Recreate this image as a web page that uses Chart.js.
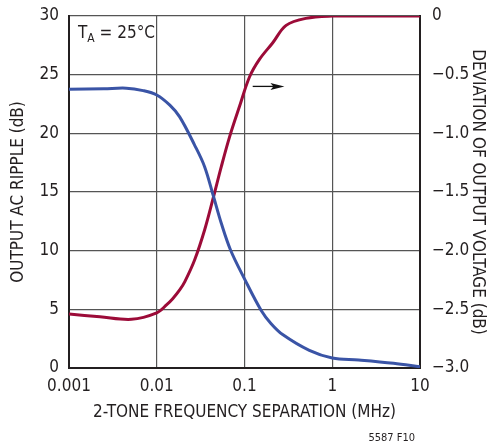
<!DOCTYPE html>
<html>
<head>
<meta charset="utf-8">
<script src="https://cdn.jsdelivr.net/npm/chart.js@4.4.0/dist/chart.umd.min.js"></script>
<style>
html, body { margin: 0; padding: 0; background: #fff; }
canvas { display: block; }
</style>
</head>
<body>
<canvas id="myChart" width="488" height="446"></canvas>
<script>
// x axis (log), MHz
var freqTicks = [0.001, 0.01, 0.1, 1, 10];
var freqLabels = ['0.001', '0.01', '0.1', '1', '10'];

// blue curve, left axis: output AC ripple (dB)
var rippleFreq = [0.001, 0.0025, 0.0045, 0.007, 0.01, 0.0141, 0.01825, 0.027, 0.0351, 0.0444, 0.0544, 0.0693, 0.1, 0.155, 0.2, 0.272, 0.548, 1, 2, 5, 10];
var rippleDb = [23.75, 23.8, 23.85, 23.64, 23.27, 22.4, 21.4, 19.0, 17.16, 14.6, 12.33, 10.06, 7.6, 4.9, 3.8, 2.85, 1.5, 0.85, 0.68, 0.4, 0.1];

// red curve, right axis: deviation of output voltage (dB)
var deviationFreq = [0.001, 0.00225, 0.00515, 0.01, 0.0129, 0.0152, 0.01825, 0.0209, 0.027, 0.0351, 0.0444, 0.0544, 0.0676, 0.0878, 0.114, 0.148, 0.209, 0.298, 0.5, 1, 2, 5, 10];
var deviationDb = [-2.54, -2.563, -2.585, -2.53, -2.463, -2.41, -2.335, -2.264, -2.08, -1.824, -1.54, -1.284, -1.03, -0.77, -0.52, -0.37, -0.23, -0.08, -0.02, 0, 0, 0, 0];

var leftTicks = [0, 5, 10, 15, 20, 25, 30];
var rightTicks = [-3, -2.5, -2, -1.5, -1, -0.5, 0];
var rightLabels = ['\u22123.0', '\u22122.5', '\u22122.0', '\u22121.5', '\u22121.0', '\u22120.5', '0'];

var FONT = "'Liberation Sans Narrow', 'DejaVu Sans Condensed', 'Liberation Sans', sans-serif";
var TEXT = '#231f20';

function pts(xs, ys) {
    return xs.map(function (x, i) { return { x: x, y: ys[i] }; });
}

var extras = {
    id: 'extras',
    afterDatasetsDraw: function (chart) {
        var ctx = chart.ctx;
        var xs = chart.scales.x, yr = chart.scales.yR, area = chart.chartArea;
        ctx.save();
        // T_A = 25°C label
        ctx.fillStyle = TEXT;
        ctx.textBaseline = 'alphabetic';
        ctx.textAlign = 'left';
        ctx.font = '17px ' + FONT;
        var tx = area.left + 9, ty = area.top + 22;
        ctx.fillText('T', tx, ty);
        var w = ctx.measureText('T').width;
        ctx.font = '12px ' + FONT;
        ctx.fillText('A', tx + w, ty + 4);
        var w2 = ctx.measureText('A').width;
        ctx.font = '17px ' + FONT;
        ctx.fillText(' = 25\u00b0C', tx + w + w2, ty);

        // arrow pointing to right axis
        var x1 = xs.getPixelForValue(0.124), x2 = xs.getPixelForValue(0.285);
        var ya = yr.getPixelForValue(-0.6);
        ctx.strokeStyle = '#111';
        ctx.lineWidth = 1.3;
        ctx.beginPath();
        ctx.moveTo(x1, ya);
        ctx.lineTo(x2 - 8, ya);
        ctx.stroke();
        ctx.fillStyle = '#111';
        ctx.beginPath();
        ctx.moveTo(x2, ya);
        ctx.lineTo(x2 - 14, ya - 3.5);
        ctx.lineTo(x2 - 11, ya);
        ctx.lineTo(x2 - 14, ya + 3.5);
        ctx.closePath();
        ctx.fill();

        // figure number
        ctx.fillStyle = TEXT;
        ctx.font = '11px ' + FONT;
        ctx.textAlign = 'right';
        ctx.fillText('5587 F10', 415, 441);
        ctx.restore();
    }
};

var ctx = document.getElementById('myChart').getContext('2d');
var myChart = new Chart(ctx, {
    type: 'line',
    data: {
        datasets: [{
            label: 'Output AC Ripple',
            data: pts(rippleFreq, rippleDb),
            yAxisID: 'yL',
            borderColor: '#3a54a6',
            borderWidth: 3,
            pointRadius: 0,
            tension: 0.35
        }, {
            label: 'Deviation of Output Voltage',
            data: pts(deviationFreq, deviationDb),
            yAxisID: 'yR',
            borderColor: '#9c0b38',
            borderWidth: 3,
            pointRadius: 0,
            tension: 0.35
        }]
    },
    options: {
        responsive: false,
        devicePixelRatio: 1,
        animation: false,
        layout: { padding: { top: 16, left: 0, right: 0, bottom: 0 } },
        plugins: { legend: { display: false }, tooltip: { enabled: false } },
        scales: {
            x: {
                type: 'logarithmic',
                min: 0.001,
                max: 10,
                afterBuildTicks: function (scale) {
                    scale.ticks = freqTicks.map(function (v) { return { value: v }; });
                },
                afterFit: function (scale) {
                    scale.height = 78;
                    scale.paddingLeft = 0;
                    scale.paddingRight = 0;
                },
                ticks: {
                    autoSkip: false,
                    maxRotation: 0,
                    padding: 8,
                    color: TEXT,
                    font: { family: FONT, size: 17 },
                    callback: function (v, i) { return freqLabels[i]; }
                },
                grid: { color: '#555', lineWidth: 1.2, drawTicks: false },
                border: { color: '#231f20', width: 2 },
                title: {
                    display: true,
                    text: '2-TONE FREQUENCY SEPARATION (MHz)',
                    color: TEXT,
                    font: { family: FONT, size: 17 },
                    padding: { top: 0, bottom: 23 }
                }
            },
            yL: {
                position: 'left',
                min: 0,
                max: 30,
                afterBuildTicks: function (scale) {
                    scale.ticks = leftTicks.map(function (v) { return { value: v }; });
                },
                afterFit: function (scale) {
                    scale.width = 69;
                    scale.paddingTop = 0;
                    scale.paddingBottom = 0;
                },
                ticks: {
                    padding: 10,
                    color: TEXT,
                    font: { family: FONT, size: 17 }
                },
                grid: { color: '#555', lineWidth: 1.2, drawTicks: false },
                border: { color: '#231f20', width: 2 },
                title: {
                    display: true,
                    text: 'OUTPUT AC RIPPLE (dB)',
                    color: TEXT,
                    font: { family: FONT, size: 17 },
                    padding: { top: 8, bottom: 0 }
                }
            },
            yR: {
                position: 'right',
                min: -3,
                max: 0,
                afterBuildTicks: function (scale) {
                    scale.ticks = rightTicks.map(function (v) { return { value: v }; });
                },
                afterFit: function (scale) {
                    scale.width = 68;
                    scale.paddingTop = 0;
                    scale.paddingBottom = 0;
                },
                ticks: {
                    padding: 12,
                    color: TEXT,
                    font: { family: FONT, size: 17 },
                    callback: function (v, i) { return rightLabels[i]; }
                },
                grid: { display: false, drawTicks: false },
                border: { color: '#231f20', width: 2 },
                title: {
                    display: true,
                    text: 'DEVIATION OF OUTPUT VOLTAGE (dB)',
                    color: TEXT,
                    font: { family: FONT, size: 17 },
                    padding: { top: 0, bottom: 0 }
                }
            }
        }
    },
    plugins: [extras]
});
</script>
</body>
</html>
